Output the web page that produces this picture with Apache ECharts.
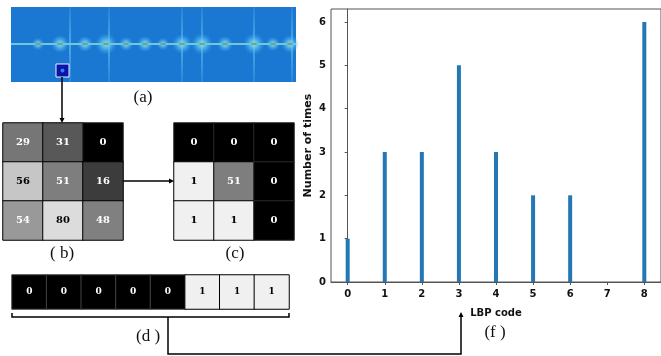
<!DOCTYPE html>
<html>
<head>
<meta charset="utf-8">
<script src="https://cdn.jsdelivr.net/npm/echarts@6/dist/echarts.min.js"></script>
<style>
  html, body { margin: 0; padding: 0; background: #fff; }
  #main { width: 661px; height: 356px; }
</style>
</head>
<body>
<div id="main"></div>
<script>
// histogram (f)
var lbpCodes = [0, 1, 2, 3, 4, 5, 6, 7, 8];
var lbpCounts = [1, 3, 3, 5, 3, 2, 2, 0, 6];
var yTicks = [0, 1, 2, 3, 4, 5, 6];

// 3x3 neighbourhood (b) and thresholded (c)
var bPixels = [[29, 31, 0], [56, 51, 16], [54, 80, 48]];
var cValues = [[0, 0, 0], [1, 51, 0], [1, 1, 0]];
// binary string (d)
var dBits = [0, 0, 0, 0, 0, 1, 1, 1];

// gray shades of the cells as drawn
var bShade = [[0x76, 0x58, 0x00], [0xc6, 0x7e, 0x3c], [0x99, 0xdc, 0x80]];
var cShade = [[0x00, 0x00, 0x00], [0xf0, 0x7e, 0x00], [0xf0, 0xf0, 0x00]];

function gray(v) {
  var h = v.toString(16);
  if (h.length < 2) h = '0' + h;
  return '#' + h + h + h;
}

function cellData(vals, shades) {
  var out = [];
  for (var r = 0; r < vals.length; r++) {
    for (var c = 0; c < vals[r].length; c++) {
      var s = shades[r][c];
      out.push({
        value: [c, r, vals[r][c]],
        itemStyle: { color: gray(s), borderColor: s < 0x20 ? '#2a2a2a' : '#000' },
        label: { color: s > 0xb0 ? '#000' : '#fff' }
      });
    }
  }
  return out;
}

var dData = [];
for (var i = 0; i < dBits.length; i++) {
  dData.push({
    value: [i, 0, dBits[i]],
    itemStyle: { color: dBits[i] ? '#f0f0f0' : '#000', borderColor: dBits[i] ? '#000' : '#444' },
    label: { color: dBits[i] ? '#000' : '#fff' }
  });
}

var barData = [];
for (var i = 0; i < lbpCodes.length; i++) {
  barData.push([lbpCodes[i], lbpCounts[i]]);
}

// spectrogram (a): decorative picture
var specX = 11, specY = 7, specW = 285, specH = 75, specMid = 44;
var streaks = [70, 109, 182, 202, 254, 292];
var blobs = [[38, 7], [60, 10], [85, 9], [106, 12], [126, 8], [145, 9], [163, 7], [182, 11], [202, 12], [225, 9], [254, 12], [273, 8], [290, 10]];

var graphics = [];
graphics.push({ type: 'rect', shape: { x: specX, y: specY, width: specW, height: specH }, style: { fill: '#1b78d2' }, z: 1 });
streaks.forEach(function (x) {
  graphics.push({
    type: 'rect', shape: { x: x - 1, y: specY, width: 2, height: specH },
    style: { fill: new echarts.graphic.LinearGradient(0, 0, 0, 1, [
      { offset: 0, color: 'rgba(110,200,245,0.15)' },
      { offset: 0.5, color: 'rgba(120,210,245,0.55)' },
      { offset: 1, color: 'rgba(110,200,245,0.2)' }
    ]) }, z: 2
  });
});
blobs.forEach(function (b) {
  graphics.push({
    type: 'ellipse', shape: { cx: b[0], cy: specMid, rx: b[1] * 0.9, ry: b[1] * 1.9 },
    style: { fill: new echarts.graphic.RadialGradient(0.5, 0.5, 0.5, [
      { offset: 0, color: 'rgba(160,240,215,0.95)' },
      { offset: 0.45, color: 'rgba(90,200,240,0.7)' },
      { offset: 1, color: 'rgba(60,160,235,0)' }
    ]) }, z: 3
  });
});
graphics.push({ type: 'rect', shape: { x: specX, y: specMid - 1, width: specW, height: 2 }, style: { fill: '#6fc8d8' }, z: 4 });
blobs.forEach(function (b) {
  graphics.push({ type: 'ellipse', shape: { cx: b[0], cy: specMid, rx: 3, ry: 1.2 }, style: { fill: '#7a9c98' }, z: 5 });
});
// selected patch
graphics.push({ type: 'rect', shape: { x: 56, y: 64, width: 13, height: 13 }, style: { fill: '#0a14a8', stroke: '#e8f0ff', lineWidth: 1 }, z: 6 });
graphics.push({ type: 'circle', shape: { cx: 62.5, cy: 70.5, r: 2 }, style: { fill: '#3c7cf0' }, z: 7 });

// arrows
var lineStyle = { stroke: '#000', lineWidth: 1.5, fill: null };
graphics.push({ type: 'line', shape: { x1: 62, y1: 77, x2: 62, y2: 119 }, style: lineStyle, z: 8 });
graphics.push({ type: 'polygon', shape: { points: [[59.5, 118], [64.5, 118], [62, 123]] }, style: { fill: '#000' }, z: 8 });
graphics.push({ type: 'line', shape: { x1: 123, y1: 181, x2: 170, y2: 181 }, style: lineStyle, z: 8 });
graphics.push({ type: 'polygon', shape: { points: [[169, 178.5], [169, 183.5], [174, 181]] }, style: { fill: '#000' }, z: 8 });
graphics.push({ type: 'polyline', shape: { points: [[12, 313], [12, 317], [289, 317], [289, 313]] }, style: lineStyle, z: 8 });
graphics.push({ type: 'polyline', shape: { points: [[168, 317], [168, 354], [461, 354], [461, 316]] }, style: lineStyle, z: 8 });
graphics.push({ type: 'polygon', shape: { points: [[458.5, 317], [463.5, 317], [461, 312]] }, style: { fill: '#000' }, z: 8 });

// captions
var caps = [['(a)', 143, 98], ['( b)', 62, 254], ['(c)', 235, 254], ['(d )', 148, 337], ['(f )', 495, 333]];
caps.forEach(function (c) {
  graphics.push({
    type: 'text', x: c[1], y: c[2],
    style: { text: c[0], font: '17px "Liberation Serif"', fill: '#111', align: 'center', verticalAlign: 'middle' }, z: 9
  });
});

var cellLabel = { show: true, fontFamily: 'DejaVu Serif', fontWeight: 'bold', fontSize: 10, formatter: function (p) { return p.value[2]; } };

function hiddenCat(n, gi, inv) {
  var d = [];
  for (var k = 0; k < n; k++) d.push(k);
  return { type: 'category', data: d, gridIndex: gi, show: false, inverse: !!inv };
}

var myChart = echarts.init(document.getElementById('main'));
var option = {
  animation: false,
  grid: [
    { left: 331, top: 9, right: -3, bottom: 74, show: true, borderColor: '#555', borderWidth: 1 },
    { left: 3, top: 123, width: 120, height: 117 },
    { left: 174, top: 123, width: 120, height: 117 },
    { left: 12, top: 275, width: 277, height: 34 }
  ],
  xAxis: [
    {
      type: 'value', gridIndex: 0, min: -0.45, max: 8.45,
      name: 'LBP code', nameLocation: 'middle', nameGap: 26,
      nameTextStyle: { fontFamily: 'DejaVu Sans', fontWeight: 'bold', fontSize: 10, color: '#111' },
      axisLine: { lineStyle: { color: '#555' } },
      axisTick: { show: true, length: 3, lineStyle: { color: '#555' }, customValues: lbpCodes },
      axisLabel: { customValues: lbpCodes, fontFamily: 'DejaVu Sans', fontWeight: 'bold', fontSize: 10, color: '#111', margin: 7 },
      splitLine: { show: false }
    },
    hiddenCat(3, 1),
    hiddenCat(3, 2),
    hiddenCat(8, 3)
  ],
  yAxis: [
    {
      type: 'value', gridIndex: 0, min: 0, max: 6.3,
      name: 'Number of times', nameLocation: 'middle', nameGap: 17, nameRotate: 90,
      nameTextStyle: { fontFamily: 'DejaVu Sans', fontWeight: 'bold', fontSize: 11, color: '#111' },
      axisLine: { show: true, lineStyle: { color: '#555' } },
      axisTick: { show: true, length: 3, lineStyle: { color: '#555' }, customValues: yTicks },
      axisLabel: { customValues: yTicks, fontFamily: 'DejaVu Sans', fontWeight: 'bold', fontSize: 10, color: '#111', margin: 5 },
      splitLine: { show: false }
    },
    hiddenCat(3, 1, true),
    hiddenCat(3, 2, true),
    hiddenCat(1, 3)
  ],
  series: [
    {
      type: 'bar', xAxisIndex: 0, yAxisIndex: 0, barWidth: 4,
      itemStyle: { color: '#2277b4' },
      data: barData
    },
    {
      type: 'heatmap', xAxisIndex: 1, yAxisIndex: 1,
      itemStyle: { borderWidth: 1 }, label: cellLabel,
      data: cellData(bPixels, bShade)
    },
    {
      type: 'heatmap', xAxisIndex: 2, yAxisIndex: 2,
      itemStyle: { borderWidth: 1 }, label: cellLabel,
      data: cellData(cValues, cShade)
    },
    {
      type: 'heatmap', xAxisIndex: 3, yAxisIndex: 3,
      itemStyle: { borderWidth: 1 },
      label: { show: true, fontFamily: 'DejaVu Serif', fontWeight: 'bold', fontSize: 9, formatter: function (p) { return p.value[2]; } },
      data: dData
    }
  ],
  graphic: graphics
};
myChart.setOption(option);
</script>
</body>
</html>
